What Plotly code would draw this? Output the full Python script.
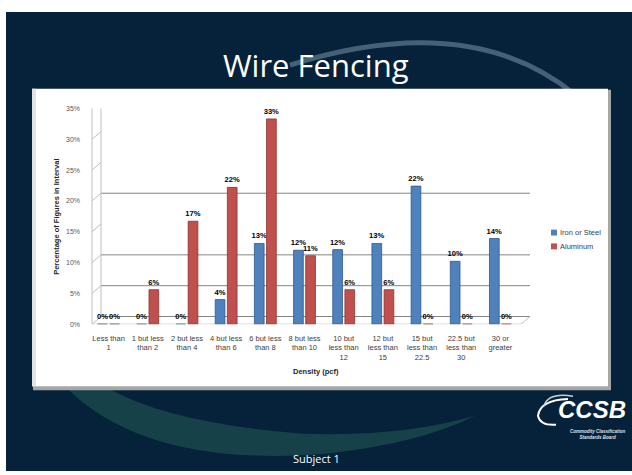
import plotly.graph_objects as go

categories = ["Less than<br>1", "1 but less<br>than 2", "2 but less<br>than 4", "4 but less<br>than 6",
              "6 but less<br>than 8", "8 but less<br>than 10", "10 but<br>less than<br>12",
              "12 but<br>less than<br>15", "15 but<br>less than<br>22.5", "22.5 but<br>less than<br>30",
              "30 or<br>greater"]
iron_steel = [0, 0, 0, 4.0, 13.1, 12.0, 12.1, 13.1, 22.4, 10.2, 13.9]
aluminum = [0, 5.6, 16.7, 22.2, 33.3, 11.1, 5.6, 5.6, 0, 0, 0]
series_names = ["Iron or Steel", "Aluminum"]
y_ticks = [0, 5, 10, 15, 20, 25, 30, 35]
grid_values = [0, 5, 10, 20, 35]

W, H = 632, 475
def px(x): return x / W
def py(y): return 1 - y / H

BLUE = "#4F81BD"
RED = "#C0504D"
BG = "#05223A"
colors = [BLUE, RED]

fig = go.Figure()
fig.add_trace(go.Bar(x=list(range(len(categories))), y=iron_steel, name=series_names[0],
                     marker=dict(color=BLUE, line=dict(color="#2E5A8C", width=0.8)),
                     texttemplate="<b>%{y:.0f}%</b>", textposition="outside", constraintext="none",
                     textfont=dict(size=7.6, color="#000000", family="Liberation Sans"),
                     cliponaxis=False, showlegend=False))
fig.add_trace(go.Bar(x=list(range(len(categories))), y=aluminum, name=series_names[1],
                     marker=dict(color=RED, line=dict(color="#8C3330", width=0.8)),
                     texttemplate="<b>%{y:.0f}%</b>", textposition="outside", constraintext="none",
                     textfont=dict(size=7.6, color="#000000", family="Liberation Sans"),
                     cliponaxis=False, showlegend=False))

shapes = []
# slide background
shapes.append(dict(type="rect", xref="paper", yref="paper", x0=px(6), x1=px(632), y0=py(474), y1=py(8),
                   fillcolor=BG, line=dict(width=0), layer="below"))
# bottom swoosh
shapes.append(dict(type="path", xref="paper", yref="paper",
                   path=f"M {px(68)},{py(391)} Q {px(150)},{py(472)} {px(330)},{py(456)} "
                        f"Q {px(420)},{py(446)} {px(475)},{py(418)} "
                        f"Q {px(400)},{py(440)} {px(300)},{py(436)} "
                        f"Q {px(170)},{py(425)} {px(110)},{py(391)} Z",
                   fillcolor="rgba(40,95,85,0.5)", line=dict(width=0), layer="below"))
# top swoosh
shapes.append(dict(type="path", xref="paper", yref="paper",
                   path=f"M {px(290)},{py(62)} Q {px(470)},{py(5)} {px(575)},{py(92)}",
                   line=dict(color="rgba(150,175,195,0.45)", width=5), layer="below"))
# panel shadow and panel
shapes.append(dict(type="rect", xref="paper", yref="paper", x0=px(33), x1=px(611), y0=py(392), y1=py(87),
                   fillcolor="#A6A6A6", line=dict(width=0), layer="below"))
shapes.append(dict(type="rect", xref="paper", yref="paper", x0=px(32), x1=px(608), y0=py(388), y1=py(86),
                   fillcolor="#FFFFFF", line=dict(width=0), layer="below"))
shapes.append(dict(type="rect", xref="paper", yref="paper", x0=px(32), x1=px(36), y0=py(388), y1=py(86),
                   fillcolor="#E3E3E3", line=dict(width=0), layer="below"))

# 3D-style gridlines (back wall) and wall
off = 1.25
wall_x = px(101)
right_x = px(530)
for v in grid_values:
    shapes.append(dict(type="line", xref="paper", yref="y", x0=wall_x, x1=right_x, y0=v + off, y1=v + off,
                       line=dict(color="#868686", width=1), layer="below"))
shapes.append(dict(type="line", xref="paper", yref="y", x0=wall_x, x1=wall_x, y0=off, y1=35 + off,
                   line=dict(color="#BFBFBF", width=1), layer="below"))
for v in y_ticks:
    shapes.append(dict(type="line", xref="paper", yref="y", x0=px(92), x1=wall_x, y0=v, y1=v + off,
                       line=dict(color="#BFBFBF", width=1), layer="below"))
# floor
shapes.append(dict(type="line", xref="paper", yref="y", x0=px(92), x1=px(521), y0=0, y1=0,
                   line=dict(color="#BFBFBF", width=1), layer="below"))
shapes.append(dict(type="line", xref="paper", yref="y", x0=px(521), x1=right_x, y0=0, y1=off,
                   line=dict(color="#BFBFBF", width=1), layer="below"))
shapes.append(dict(type="line", xref="paper", yref="y", x0=px(92), x1=px(92), y0=0, y1=35,
                   line=dict(color="#BFBFBF", width=1), layer="below"))

# logo swooshes
shapes.append(dict(type="path", xref="paper", yref="paper",
                   path=f"M {px(568)},{py(401)} Q {px(540)},{py(402)} {px(538)},{py(418)} "
                        f"Q {px(540)},{py(428)} {px(556)},{py(427)}",
                   line=dict(color="#FFFFFF", width=2), layer="above"))
shapes.append(dict(type="path", xref="paper", yref="paper",
                   path=f"M {px(573)},{py(398)} Q {px(548)},{py(394)} {px(544)},{py(408)}",
                   line=dict(color="#C8D0D8", width=1.5), layer="above"))

annotations = [
    dict(text="Wire Fencing", x=px(316), y=py(62), xref="paper", yref="paper", showarrow=False,
         font=dict(family="Open Sans", size=31, color="#FFFFFF"), xanchor="center", yanchor="middle"),
    dict(text="Subject 1", x=px(316), y=py(461), xref="paper", yref="paper", showarrow=False,
         font=dict(family="Open Sans", size=11, color="#FFFFFF"), xanchor="center", yanchor="middle"),
    dict(text="<b>Percentage of Figures in Interval</b>", x=px(57), y=py(216), xref="paper", yref="paper",
         showarrow=False, textangle=-90, font=dict(family="Liberation Sans", size=7.5, color="#262626"),
         xanchor="center", yanchor="middle"),
    dict(text="<b>Density (pcf)</b>", x=px(316), y=py(373), xref="paper", yref="paper", showarrow=False,
         font=dict(family="Liberation Sans", size=7.5, color="#262626"), xanchor="center", yanchor="middle"),
    dict(text="<b><i>CCSB</i></b>", x=px(592), y=py(412), xref="paper", yref="paper", showarrow=False,
         font=dict(family="Liberation Sans", size=24, color="#FFFFFF"), xanchor="center", yanchor="middle"),
    dict(text="<b><i>Commodity Classification<br>Standards Board</i></b>", x=px(598), y=py(437), xref="paper",
         yref="paper", showarrow=False, font=dict(family="Liberation Sans", size=4.5, color="#DDE3EA"),
         xanchor="center", yanchor="middle"),
]

# legend (drawn manually for compact spacing)
for i, (name, col) in enumerate(zip(series_names, colors)):
    yc = 232 + 14 * i
    shapes.append(dict(type="rect", xref="paper", yref="paper", x0=px(551), x1=px(557),
                       y0=py(yc + 3), y1=py(yc - 3), fillcolor=col, line=dict(width=0)))
    annotations.append(dict(text=name, x=px(558), y=py(yc), xref="paper", yref="paper", showarrow=False,
                            xanchor="left", yanchor="middle",
                            font=dict(family="Liberation Sans", size=7.5, color="#404040")))

fig.update_layout(
    width=W, height=H, margin=dict(l=0, r=0, t=0, b=0),
    paper_bgcolor="#FFFFFF", plot_bgcolor="rgba(0,0,0,0)",
    barmode="group", bargap=0.38, bargroupgap=0.2,
    shapes=shapes, annotations=annotations, showlegend=False,
    xaxis=dict(domain=[px(89), px(520)], range=[-0.5, 10.5], tickmode="array",
               tickvals=list(range(len(categories))), ticktext=categories, showgrid=False, zeroline=False,
               showline=False, ticks="", ticklabelstandoff=8,
               tickfont=dict(family="Liberation Sans", size=7.5, color="#404040")),
    yaxis=dict(domain=[py(325), py(106)], range=[0, 35], tickvals=y_ticks,
               ticktext=[f"{v}%" for v in y_ticks], showgrid=False, zeroline=False, showline=False,
               ticks="", ticklabelstandoff=8,
               tickfont=dict(family="Liberation Sans", size=7, color="#595959")),
)

fig.write_html("out.html", config={"displayModeBar": False},
               post_script="document.body.style.margin='0';document.body.style.overflow='hidden';")
